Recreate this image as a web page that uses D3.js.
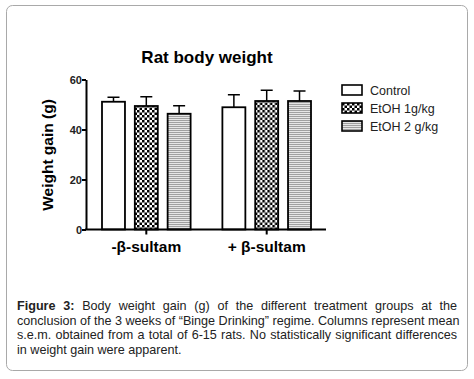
<!DOCTYPE html>
<html>
<head>
<meta charset="utf-8">
<script src="https://cdn.jsdelivr.net/npm/d3@7"></script>
<style>
  body { margin: 0; background: #fff; }
  #container { position: relative; width: 474px; height: 379px; }
  #caption {
    position: absolute; left: 17px; top: 299px; width: 440px;
    font-family: "Liberation Sans", Arial, sans-serif; font-size: 12.6px;
    line-height: 14.6px; color: #222;
  }
  #caption div { text-align: justify; text-align-last: justify; white-space: nowrap; }
  #caption div.last { text-align-last: left; }
</style>
</head>
<body>
<div id="container"></div>
<script>
let w = 474;
let h = 379;

// data
let groups = ["-β-sultam", "+ β-sultam"];
let treatments = ["Control", "EtOH 1g/kg", "EtOH 2 g/kg"];
let means = [
  [51.1, 49.4, 46.3],
  [48.9, 51.4, 51.4]
];
let sems = [
  [1.8, 3.7, 3.2],
  [5.0, 4.3, 4.0]
];
let yTicks = [0, 20, 40, 60];
let captionLines = [
  "<b>Figure 3:</b> Body weight gain (g) of the different treatment groups at the",
  "conclusion of the 3 weeks of “Binge Drinking” regime. Columns represent mean",
  "s.e.m. obtained from a total of 6-15 rats. No statistically significant differences",
  "in weight gain were apparent."
];

let viz = d3.select("#container")
  .append("svg")
    .attr("width", w)
    .attr("height", h)
    .style("position", "absolute")
    .style("left", 0)
    .style("top", 0);

// outer frame
viz.append("rect")
  .attr("x", 6.5).attr("y", 5.5)
  .attr("width", 461).attr("height", 365)
  .attr("rx", 6)
  .attr("fill", "none")
  .attr("stroke", "#a9a9a9")
  .attr("stroke-width", 1);

// patterns
let defs = viz.append("defs");
let checker = defs.append("pattern")
  .attr("id", "checker")
  .attr("patternUnits", "userSpaceOnUse")
  .attr("width", 5).attr("height", 5);
checker.append("rect").attr("width", 5).attr("height", 5).attr("fill", "#fff");
checker.append("rect").attr("width", 2.5).attr("height", 2.5).attr("fill", "#000");
checker.append("rect").attr("x", 2.5).attr("y", 2.5).attr("width", 2.5).attr("height", 2.5).attr("fill", "#000");

let stripes = defs.append("pattern")
  .attr("id", "stripes")
  .attr("patternUnits", "userSpaceOnUse")
  .attr("width", 4).attr("height", 2);
stripes.append("rect").attr("width", 4).attr("height", 2).attr("fill", "#e6e6e6");
stripes.append("rect").attr("width", 4).attr("height", 1).attr("fill", "#a0a0a0");

let fills = ["#fff", "url(#checker)", "url(#stripes)"];

let font = "'Liberation Sans', Arial, sans-serif";
let xLeft = 86;
let xRight = 326;
let yBottom = 229.5;
let yTop = 79.5;

let yScale = d3.scaleLinear().domain([0, 60]).range([yBottom, yTop]);
let xScale = d3.scaleBand().domain(groups).range([102, 311]).paddingInner(0.264).paddingOuter(0);
let xInner = d3.scaleBand().domain(treatments).range([0, xScale.bandwidth()]).paddingInner(0.3);

// title
viz.append("text")
  .attr("x", 207).attr("y", 63)
  .attr("text-anchor", "middle")
  .style("font-family", font).style("font-weight", "bold").style("font-size", "17px")
  .text("Rat body weight");

// y label
viz.append("text")
  .attr("transform", "translate(53,155) rotate(-90)")
  .attr("text-anchor", "middle")
  .style("font-family", font).style("font-weight", "bold").style("font-size", "15.5px")
  .text("Weight gain (g)");

// bars
let groupG = viz.selectAll(".grp")
  .data(groups)
  .enter()
  .append("g")
    .attr("class", "grp")
    .attr("transform", function(d){ return "translate(" + xScale(d) + ",0)"; });

groupG.each(function(g, gi){
  let sel = d3.select(this);
  treatments.forEach(function(t, ti){
    let x = xInner(t);
    let bw = xInner.bandwidth();
    let cx = x + bw / 2;
    let top = yScale(means[gi][ti]);
    let errTop = yScale(means[gi][ti] + sems[gi][ti]);
    sel.append("line")
      .attr("x1", cx).attr("x2", cx)
      .attr("y1", top).attr("y2", errTop)
      .attr("stroke", "#000").attr("stroke-width", 1.5);
    sel.append("line")
      .attr("x1", cx - 6).attr("x2", cx + 6)
      .attr("y1", errTop).attr("y2", errTop)
      .attr("stroke", "#000").attr("stroke-width", 1.5);
    sel.append("rect")
      .attr("x", x).attr("y", top)
      .attr("width", bw).attr("height", yBottom - top)
      .attr("fill", fills[ti])
      .attr("stroke", "#000").attr("stroke-width", 1.8);
  });
});

// y axis
let yAxis = d3.axisLeft(yScale).tickValues(yTicks).tickSize(4).tickSizeOuter(0);
let yAxisGroup = viz.append("g").attr("class", "yaxis")
  .attr("transform", "translate(" + xLeft + ",0)")
  .call(yAxis);
yAxisGroup.select(".domain").attr("stroke-width", 2);
yAxisGroup.selectAll(".tick line").attr("stroke-width", 2);
yAxisGroup.selectAll(".tick text")
  .style("font-family", font).style("font-size", "11px").style("font-weight", "bold")
  .attr("x", -4).attr("fill", "#222");

// x axis
let xAxisGroup = viz.append("g").attr("class", "xaxis")
  .attr("transform", "translate(0," + yBottom + ")");
xAxisGroup.append("line")
  .attr("x1", xLeft - 1).attr("x2", xRight)
  .attr("stroke", "#000").attr("stroke-width", 2);
xAxisGroup.selectAll(".xtick")
  .data(groups)
  .enter()
  .append("line")
    .attr("x1", function(d){ return xScale(d) + xScale.bandwidth() / 2; })
    .attr("x2", function(d){ return xScale(d) + xScale.bandwidth() / 2; })
    .attr("y1", 0).attr("y2", 5)
    .attr("stroke", "#000").attr("stroke-width", 2);
xAxisGroup.selectAll(".xlabel")
  .data(groups)
  .enter()
  .append("text")
    .attr("x", function(d){ return xScale(d) + xScale.bandwidth() / 2; })
    .attr("y", 22)
    .attr("text-anchor", "middle")
    .style("font-family", font).style("font-weight", "bold").style("font-size", "15.5px")
    .text(function(d){ return d; });

// legend
let legend = viz.selectAll(".legend")
  .data(treatments)
  .enter()
  .append("g")
    .attr("class", "legend")
    .attr("transform", function(d, i){ return "translate(342," + (85 + i * 18) + ")"; });
legend.append("rect")
  .attr("width", 20).attr("height", 10)
  .attr("fill", function(d, i){ return fills[i]; })
  .attr("stroke", "#000").attr("stroke-width", 1.6);
legend.append("text")
  .attr("x", 28).attr("y", 9.5)
  .style("font-family", font).style("font-size", "12.5px").attr("fill", "#222")
  .text(function(d){ return d; });

// caption
d3.select("#container").append("div")
  .attr("id", "caption")
  .selectAll("div")
  .data(captionLines)
  .enter()
  .append("div")
    .attr("class", function(d, i){ return i === captionLines.length - 1 ? "last" : null; })
    .html(function(d){ return d; });
</script>
</body>
</html>
